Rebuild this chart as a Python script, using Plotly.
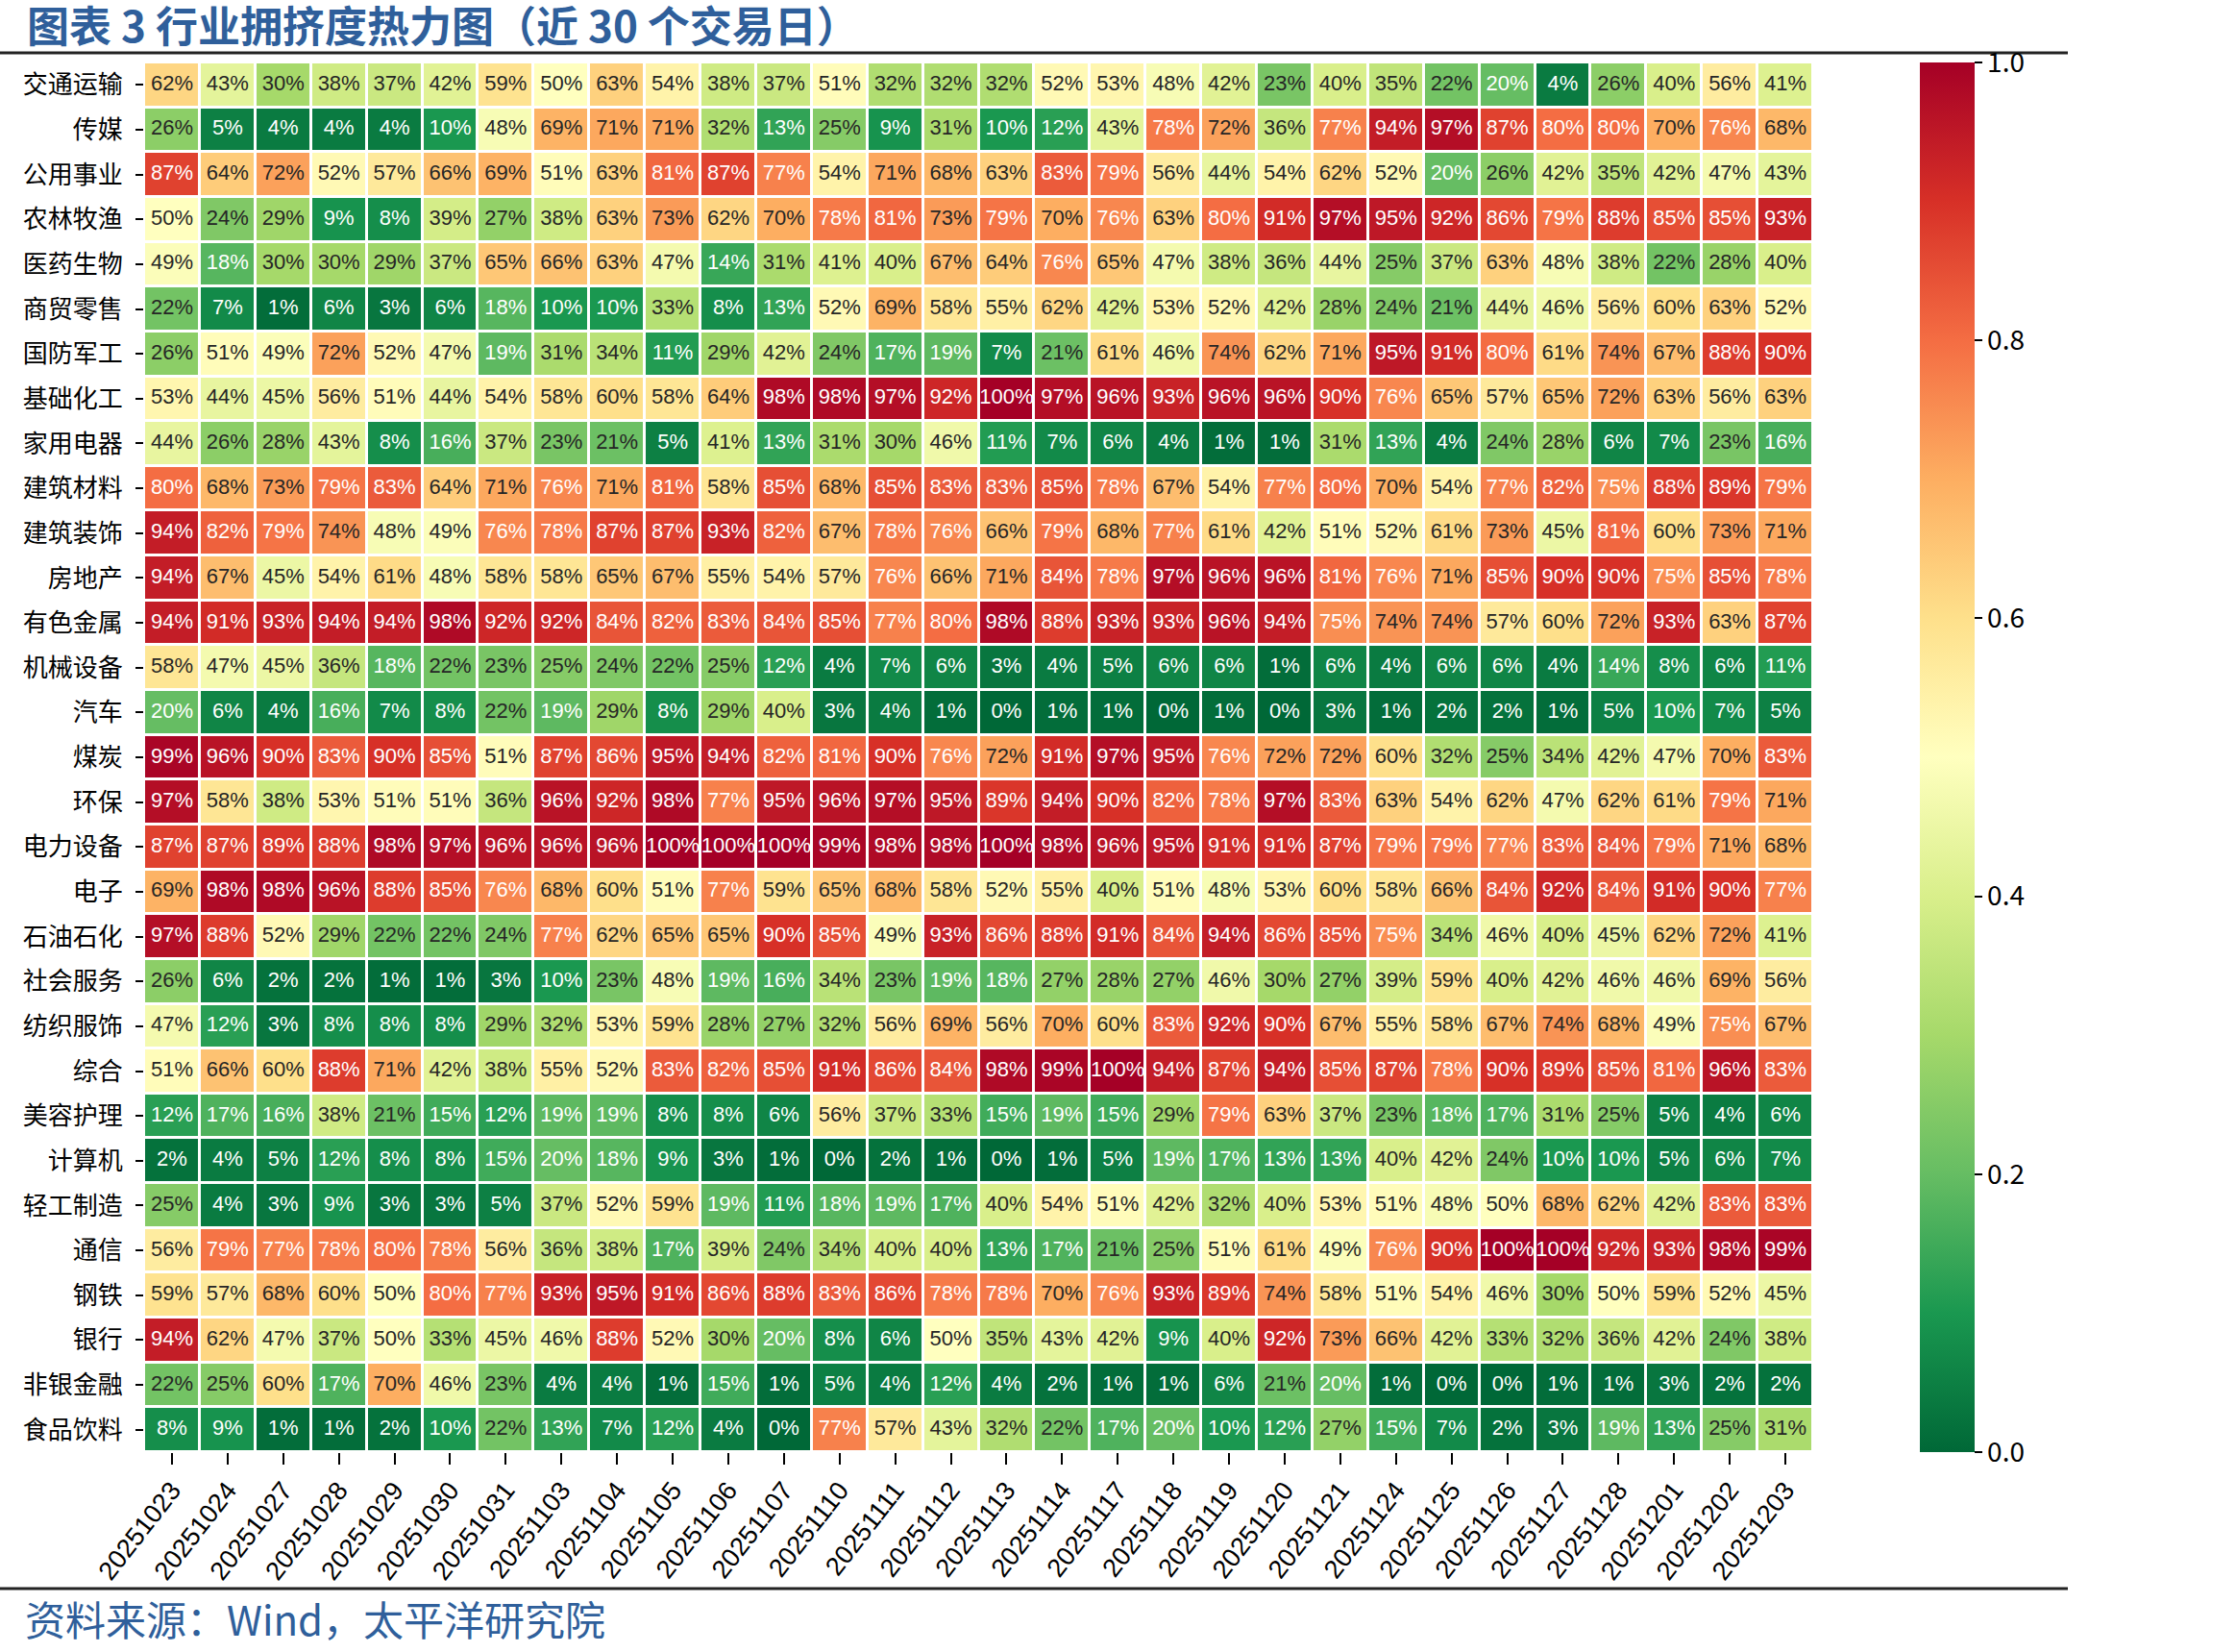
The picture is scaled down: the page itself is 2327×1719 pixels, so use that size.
import plotly.graph_objects as go

dates = ["20251023", "20251024", "20251027", "20251028", "20251029", "20251030",
         "20251031", "20251103", "20251104", "20251105", "20251106", "20251107",
         "20251110", "20251111", "20251112", "20251113", "20251114", "20251117",
         "20251118", "20251119", "20251120", "20251121", "20251124", "20251125",
         "20251126", "20251127", "20251128", "20251201", "20251202", "20251203"]

industries = ["交通运输", "传媒", "公用事业", "农林牧渔", "医药生物", "商贸零售", "国防军工",
              "基础化工", "家用电器", "建筑材料", "建筑装饰", "房地产", "有色金属", "机械设备",
              "汽车", "煤炭", "环保", "电力设备", "电子", "石油石化", "社会服务", "纺织服饰",
              "综合", "美容护理", "计算机", "轻工制造", "通信", "钢铁", "银行", "非银金融", "食品饮料"]

# crowding percentile (%) per industry, one value per trading day
transport = [62, 43, 30, 38, 37, 42, 59, 50, 63, 54, 38, 37, 51, 32, 32, 32, 52, 53, 48, 42, 23, 40, 35, 22, 20, 4, 26, 40, 56, 41]
media = [26, 5, 4, 4, 4, 10, 48, 69, 71, 71, 32, 13, 25, 9, 31, 10, 12, 43, 78, 72, 36, 77, 94, 97, 87, 80, 80, 70, 76, 68]
utilities = [87, 64, 72, 52, 57, 66, 69, 51, 63, 81, 87, 77, 54, 71, 68, 63, 83, 79, 56, 44, 54, 62, 52, 20, 26, 42, 35, 42, 47, 43]
agriculture = [50, 24, 29, 9, 8, 39, 27, 38, 63, 73, 62, 70, 78, 81, 73, 79, 70, 76, 63, 80, 91, 97, 95, 92, 86, 79, 88, 85, 85, 93]
pharma = [49, 18, 30, 30, 29, 37, 65, 66, 63, 47, 14, 31, 41, 40, 67, 64, 76, 65, 47, 38, 36, 44, 25, 37, 63, 48, 38, 22, 28, 40]
retail = [22, 7, 1, 6, 3, 6, 18, 10, 10, 33, 8, 13, 52, 69, 58, 55, 62, 42, 53, 52, 42, 28, 24, 21, 44, 46, 56, 60, 63, 52]
defense = [26, 51, 49, 72, 52, 47, 19, 31, 34, 11, 29, 42, 24, 17, 19, 7, 21, 61, 46, 74, 62, 71, 95, 91, 80, 61, 74, 67, 88, 90]
basic_chem = [53, 44, 45, 56, 51, 44, 54, 58, 60, 58, 64, 98, 98, 97, 92, 100, 97, 96, 93, 96, 96, 90, 76, 65, 57, 65, 72, 63, 56, 63]
home_appliances = [44, 26, 28, 43, 8, 16, 37, 23, 21, 5, 41, 13, 31, 30, 46, 11, 7, 6, 4, 1, 1, 31, 13, 4, 24, 28, 6, 7, 23, 16]
building_materials = [80, 68, 73, 79, 83, 64, 71, 76, 71, 81, 58, 85, 68, 85, 83, 83, 85, 78, 67, 54, 77, 80, 70, 54, 77, 82, 75, 88, 89, 79]
construction = [94, 82, 79, 74, 48, 49, 76, 78, 87, 87, 93, 82, 67, 78, 76, 66, 79, 68, 77, 61, 42, 51, 52, 61, 73, 45, 81, 60, 73, 71]
real_estate = [94, 67, 45, 54, 61, 48, 58, 58, 65, 67, 55, 54, 57, 76, 66, 71, 84, 78, 97, 96, 96, 81, 76, 71, 85, 90, 90, 75, 85, 78]
nonferrous = [94, 91, 93, 94, 94, 98, 92, 92, 84, 82, 83, 84, 85, 77, 80, 98, 88, 93, 93, 96, 94, 75, 74, 74, 57, 60, 72, 93, 63, 87]
machinery = [58, 47, 45, 36, 18, 22, 23, 25, 24, 22, 25, 12, 4, 7, 6, 3, 4, 5, 6, 6, 1, 6, 4, 6, 6, 4, 14, 8, 6, 11]
autos = [20, 6, 4, 16, 7, 8, 22, 19, 29, 8, 29, 40, 3, 4, 1, 0, 1, 1, 0, 1, 0, 3, 1, 2, 2, 1, 5, 10, 7, 5]
coal = [99, 96, 90, 83, 90, 85, 51, 87, 86, 95, 94, 82, 81, 90, 76, 72, 91, 97, 95, 76, 72, 72, 60, 32, 25, 34, 42, 47, 70, 83]
environmental = [97, 58, 38, 53, 51, 51, 36, 96, 92, 98, 77, 95, 96, 97, 95, 89, 94, 90, 82, 78, 97, 83, 63, 54, 62, 47, 62, 61, 79, 71]
power_equipment = [87, 87, 89, 88, 98, 97, 96, 96, 96, 100, 100, 100, 99, 98, 98, 100, 98, 96, 95, 91, 91, 87, 79, 79, 77, 83, 84, 79, 71, 68]
electronics = [69, 98, 98, 96, 88, 85, 76, 68, 60, 51, 77, 59, 65, 68, 58, 52, 55, 40, 51, 48, 53, 60, 58, 66, 84, 92, 84, 91, 90, 77]
petrochem = [97, 88, 52, 29, 22, 22, 24, 77, 62, 65, 65, 90, 85, 49, 93, 86, 88, 91, 84, 94, 86, 85, 75, 34, 46, 40, 45, 62, 72, 41]
social_services = [26, 6, 2, 2, 1, 1, 3, 10, 23, 48, 19, 16, 34, 23, 19, 18, 27, 28, 27, 46, 30, 27, 39, 59, 40, 42, 46, 46, 69, 56]
textiles = [47, 12, 3, 8, 8, 8, 29, 32, 53, 59, 28, 27, 32, 56, 69, 56, 70, 60, 83, 92, 90, 67, 55, 58, 67, 74, 68, 49, 75, 67]
conglomerate = [51, 66, 60, 88, 71, 42, 38, 55, 52, 83, 82, 85, 91, 86, 84, 98, 99, 100, 94, 87, 94, 85, 87, 78, 90, 89, 85, 81, 96, 83]
beauty = [12, 17, 16, 38, 21, 15, 12, 19, 19, 8, 8, 6, 56, 37, 33, 15, 19, 15, 29, 79, 63, 37, 23, 18, 17, 31, 25, 5, 4, 6]
computers = [2, 4, 5, 12, 8, 8, 15, 20, 18, 9, 3, 1, 0, 2, 1, 0, 1, 5, 19, 17, 13, 13, 40, 42, 24, 10, 10, 5, 6, 7]
light_mfg = [25, 4, 3, 9, 3, 3, 5, 37, 52, 59, 19, 11, 18, 19, 17, 40, 54, 51, 42, 32, 40, 53, 51, 48, 50, 68, 62, 42, 83, 83]
telecom = [56, 79, 77, 78, 80, 78, 56, 36, 38, 17, 39, 24, 34, 40, 40, 13, 17, 21, 25, 51, 61, 49, 76, 90, 100, 100, 92, 93, 98, 99]
steel = [59, 57, 68, 60, 50, 80, 77, 93, 95, 91, 86, 88, 83, 86, 78, 78, 70, 76, 93, 89, 74, 58, 51, 54, 46, 30, 50, 59, 52, 45]
banks = [94, 62, 47, 37, 50, 33, 45, 46, 88, 52, 30, 20, 8, 6, 50, 35, 43, 42, 9, 40, 92, 73, 66, 42, 33, 32, 36, 42, 24, 38]
nonbank_fin = [22, 25, 60, 17, 70, 46, 23, 4, 4, 1, 15, 1, 5, 4, 12, 4, 2, 1, 1, 6, 21, 20, 1, 0, 0, 1, 1, 3, 2, 2]
food_bev = [8, 9, 1, 1, 2, 10, 22, 13, 7, 12, 4, 0, 77, 57, 43, 32, 22, 17, 20, 10, 12, 27, 15, 7, 2, 3, 19, 13, 25, 31]

rows = [transport, media, utilities, agriculture, pharma, retail, defense, basic_chem,
        home_appliances, building_materials, construction, real_estate, nonferrous, machinery,
        autos, coal, environmental, power_equipment, electronics, petrochem, social_services,
        textiles, conglomerate, beauty, computers, light_mfg, telecom, steel, banks,
        nonbank_fin, food_bev]
assert len(rows) == len(industries)
for r in rows:
    assert len(r) == len(dates)

cbar_ticks = [0.0, 0.2, 0.4, 0.6, 0.8, 1.0]
cbar_labels = ["0.0", "0.2", "0.4", "0.6", "0.8", "1.0"]

# ---- colormap (RdYlGn reversed) ----
rdylgn = ["#a50026", "#d73027", "#f46d43", "#fdae61", "#fee08b", "#ffffbf",
          "#d9ef8b", "#a6d96a", "#66bd63", "#1a9850", "#006837"]
cmap = list(reversed(rdylgn))
colorscale = [[i / 10, c] for i, c in enumerate(cmap)]


def hex2rgb(h):
    h = h.lstrip("#")
    return [int(h[i:i + 2], 16) / 255 for i in (0, 2, 4)]


def color_at(v):
    idx = min(int(v * 256), 255)
    t = idx / 255 * 10
    i = min(int(t), 9)
    f = t - i
    a, b = hex2rgb(cmap[i]), hex2rgb(cmap[i + 1])
    return [a[k] + (b[k] - a[k]) * f for k in range(3)]


def luminance(rgb):
    out = []
    for c in rgb:
        out.append(c / 12.92 if c <= 0.03928 else ((c + 0.055) / 1.055) ** 2.4)
    return 0.2126 * out[0] + 0.7152 * out[1] + 0.0722 * out[2]


z = [[v / 100 for v in r] for r in rows]

tx, ty, tt, tc = [], [], [], []
for ri, r in enumerate(rows):
    for ci, v in enumerate(r):
        tx.append(dates[ci])
        ty.append(industries[ri])
        tt.append(f"{v}%")
        tc.append("#262626" if luminance(color_at(v / 100)) > 0.408 else "#ffffff")

# ---- layout geometry (pixels) ----
W, H = 2327, 1719
L, R, T, B = 150, 2327 - 1887, 65, 1719 - 1511
pw, ph = W - L - R, H - T - B


def px_x(p):
    return (p - L) / pw


def px_y(p):
    return (H - B - p) / ph


fig = go.Figure()
fig.add_trace(go.Heatmap(
    z=z, x=dates, y=industries, zmin=0, zmax=1, colorscale=colorscale,
    xgap=3, ygap=3, hoverinfo="skip",
    colorbar=dict(
        x=px_x(1998), xanchor="left", y=0.5, yanchor="middle",
        len=1, lenmode="fraction", thickness=57, thicknessmode="pixels",
        outlinewidth=0, xpad=0, ypad=0,
        ticks="outside", ticklen=8, tickwidth=2, tickcolor="black",
        tickvals=cbar_ticks, ticktext=cbar_labels,
        tickfont=dict(family="Noto Sans CJK SC", size=28, color="black"),
    ),
))
fig.add_trace(go.Scatter(
    x=tx, y=ty, text=tt, mode="text", textposition="middle center",
    textfont=dict(family="Liberation Sans, Arial", size=22, color=tc),
    hoverinfo="skip", showlegend=False,
))

fig.update_layout(
    width=W, height=H, margin=dict(l=L, r=R, t=T, b=B, autoexpand=False),
    paper_bgcolor="white", plot_bgcolor="white", showlegend=False,
    xaxis=dict(type="category", range=[-0.5, len(dates) - 0.5], showgrid=False, zeroline=False,
               ticks="outside", ticklen=12, tickwidth=2, tickcolor="black", tickangle=-52,
               tickfont=dict(family="Liberation Sans, Arial", size=27, color="black"),
               showline=False),
    yaxis=dict(type="category", range=[len(industries) - 0.5, -0.5], showgrid=False, zeroline=False,
               ticks="outside", ticklen=8, tickwidth=2, tickcolor="black", ticklabelstandoff=8,
               tickfont=dict(family="Noto Sans CJK SC", size=26, color="black"),
               showline=False),
    shapes=[
        dict(type="line", xref="paper", yref="paper", x0=px_x(0), x1=px_x(2152),
             y0=px_y(55), y1=px_y(55), line=dict(color="#222222", width=3)),
        dict(type="line", xref="paper", yref="paper", x0=px_x(0), x1=px_x(2152),
             y0=px_y(1653), y1=px_y(1653), line=dict(color="#222222", width=3)),
    ],
    annotations=[
        dict(text="<b>图表 3 行业拥挤度热力图（近 30 个交易日）</b>", xref="paper", yref="paper",
             x=px_x(26), y=px_y(25), xanchor="left", yanchor="middle", showarrow=False,
             font=dict(family="Noto Sans CJK SC", size=44, color="#2f5f9b")),
        dict(text="资料来源：Wind，太平洋研究院", xref="paper", yref="paper",
             x=px_x(24), y=px_y(1683), xanchor="left", yanchor="middle", showarrow=False,
             font=dict(family="Noto Sans CJK SC", size=42, color="#2f5f9b")),
    ],
)

fig.write_html("out.html")
